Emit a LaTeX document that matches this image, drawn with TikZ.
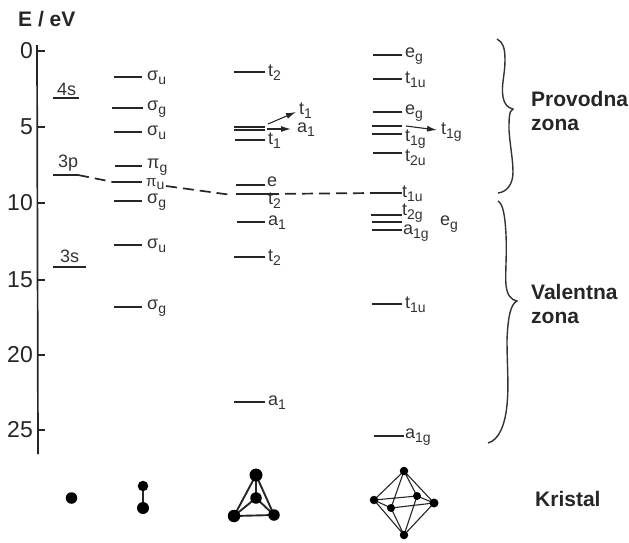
\documentclass[tikz,border=0pt]{standalone}
\usepackage{fontspec}
\usetikzlibrary{arrows.meta}
\setmainfont{Liberation Sans}
\newcommand{\lsub}[1]{\raisebox{-0.42ex}{\fontsize{14}{14}\selectfont #1}}
\begin{document}
\begin{tikzpicture}[x=1pt,y=-1pt,
 lev/.style={line width=1.6pt,black!85},
 levt/.style={line width=2.3pt,black!85},
 lbl/.style={font=\fontsize{18}{18}\selectfont,text=black!80,inner sep=0pt,anchor=west},
 tick/.style={font=\fontsize{23}{23}\selectfont,inner sep=0pt,anchor=east,text=black!85},
 hd/.style={font=\fontsize{21}{21}\selectfont\bfseries,inner sep=0pt,text=black!85,align=left,anchor=west},
 arr/.style={line width=1.1pt,-{Latex[length=10pt,width=6pt]},black!85},
 dsh/.style={line width=1.7pt,black!85,dash pattern=on 11pt off 6pt},
 brc/.style={line width=1.4pt,black!80},
 atom/.style={circle,fill=black,inner sep=0pt,minimum size=#1},
 bond/.style={line width=1.9pt,black!85},
 thin bond/.style={line width=1.1pt,black!85}]
\useasboundingbox (0,0) rectangle (629,542);
\node[hd] (title) at (18,19) {E / eV};
% axis
\coordinate (axt) at (37,45); \coordinate (axb) at (38,454);
\draw[line width=1.7pt,black!85] (axt)--(axb);
\foreach \y/\t in {51/0,127/5,203/10,280/15,355/20,430/25}{
 \draw[line width=1.7pt,black!85] (37,\y)--(45,\y);
 \node[tick] at (33,\y) {\t};
}
% col 1
\draw[levt] (53,98)--(79,98);
\node[lbl] at (57,89) {4s};
\draw[lev] (53,175)--(78,175);
\node[lbl] at (58,163) {3p};
\draw[levt] (53,267)--(86,267);
\node[lbl] at (60,256) {3s};
% col 2
\foreach \a/\b/\y/\l in {114/142/77/{σ\lsub{u}},112/143/108/{σ\lsub{g}},114/142/132/{σ\lsub{u}},115/142/166/{π\lsub{g}},114/142/201/{σ\lsub{g}},114/142/245/{σ\lsub{u}},114/142/307/{σ\lsub{g}}}{
 \draw[lev] (\a,\y)--(\b,\y);
 \node[lbl] at (147,\y+1) {\l};
}
\draw[lev] (113,182)--(142,182);
\node[lbl,font=\fontsize{15}{15}\selectfont] at (146,184) {π\lsub{u}};
% col 3
\foreach \a/\b/\y/\l in {234/265/72/{t\lsub{2}},235/265/140/{t\lsub{1}},237/265/222/{a\lsub{1}},234/265/257/{t\lsub{2}},234/265/402/{a\lsub{1}}}{
 \draw[lev] (\a,\y)--(\b,\y);
 \node[lbl] at (268,\y+1) {\l};
}
\draw[lev] (234,127)--(265,127);
\draw[lev] (234,130)--(265,130);
\draw[lev] (236,185)--(265,185);
\node[lbl] at (267,182) {e};
\draw[lev] (236,194)--(268,194);
\node[lbl] at (268,201) {t\lsub{2}};
\coordinate (a1) at (268,124); \coordinate (a2) at (296,112);
\coordinate (a3) at (267,129); \coordinate (a4) at (291,129);
\draw[arr] (a1)--(a2);
\draw[arr] (a3)--(a4);
\node[lbl] at (299,111) {t\lsub{1}};
\node[lbl] at (297,130) {a\lsub{1}};
% col 4
\foreach \a/\b/\y/\l in {373/402/55/{e\lsub{g}},373/402/79/{t\lsub{1u}},373/402/112/{e\lsub{g}},372/402/304/{t\lsub{1u}},374/404/436/{a\lsub{1g}}}{
 \draw[lev] (\a,\y)--(\b,\y);
 \node[lbl] at (405,\y+1) {\l};
}
\draw[lev] (373,153)--(402,153);
\node[lbl] at (405,158) {t\lsub{2u}};
\draw[levt] (372,126)--(402,126);
\draw[levt] (372,134)--(402,134);
\node[lbl] at (405,139) {t\lsub{1g}};
\coordinate (a5) at (406,126); \coordinate (a6) at (437,130);
\draw[arr] (a5)--(a6);
\node[lbl] at (441,132) {t\lsub{1g}};
\draw[lev] (372,193)--(402,193);
\node[lbl] at (402,194) {t\lsub{1u}};
\draw[levt] (371,215)--(402,215);
\draw[lev] (372,222)--(402,222);
\draw[lev] (372,230)--(402,230);
\node[lbl] at (402,213) {t\lsub{2g}};
\node[lbl] at (403,233) {a\lsub{1g}};
\node[lbl] at (440,224) {e\lsub{g}};
% dashed correlation
\draw[dsh] (78,175)--(113,182);
\draw[dsh] (166,186)--(232,195);
\draw[dsh] (268,194)--(372,193);
% braces
\draw[brc] (497,39) .. controls (503,42) and (505,48) .. (505,60) .. controls (505,75) and (501,85) .. (503,97) .. controls (504,104) and (508,108) .. (513,109) .. controls (509,111) and (509,118) .. (509,130) .. controls (510,145) and (513,160) .. (513,172) .. controls (513,184) and (507,192) .. (498,193);
\draw[brc] (498,201) .. controls (503,204) and (505,215) .. (506,235) .. controls (507,255) and (505,275) .. (506,285) .. controls (507,295) and (511,300) .. (517,301) .. controls (511,304) and (508,315) .. (507,340) .. controls (507,365) and (509,385) .. (507,405) .. controls (505,425) and (499,440) .. (488,443);
\node[hd] at (531,99) {Provodna};
\node[hd] at (531,125) {zona};
\node[hd] at (531,292) {Valentna};
\node[hd] at (531,318) {zona};
\node[hd] at (535,499) {Kristal};
% clusters
\node[atom=11.5pt] (c1) at (71.5,498) {};
\node[atom=10.5pt] (d1) at (143,486) {};
\node[atom=12pt] (d2) at (143,508) {};
\draw[bond] (d1)--(d2);
\coordinate (tt) at (256,475); \coordinate (tc) at (256,498); \coordinate (tl) at (234,516); \coordinate (tr) at (274,515);
\draw[bond] (tt)--(tl) (tt)--(tr) (tl)--(tr) (tt)--(tc) (tc)--(tl) (tc)--(tr);
\node[atom=13pt] (t1) at (tt) {};
\node[atom=11.5pt] (t2) at (tc) {};
\node[atom=12.5pt] (t3) at (tl) {};
\node[atom=11.5pt] (t4) at (tr) {};
\coordinate (ot) at (404,471); \coordinate (ob) at (404,535); \coordinate (ol) at (374,500); \coordinate (or) at (434,503); \coordinate (obk) at (417,496); \coordinate (ofr) at (391,508);
\draw[thin bond] (ot)--(ol) (ot)--(or) (ot)--(obk) (ot)--(ofr) (ob)--(ol) (ob)--(or) (ob)--(obk) (ob)--(ofr) (ol)--(obk) (obk)--(or) (or)--(ofr) (ofr)--(ol);
\foreach \n/\c/\s in {o1/ot/8.5pt,o2/ob/8.5pt,o3/ol/8.5pt,o4/or/9pt,o5/obk/8pt,o6/ofr/8pt}
 \node[atom=\s] (\n) at (\c) {};
\end{tikzpicture}
\end{document}
